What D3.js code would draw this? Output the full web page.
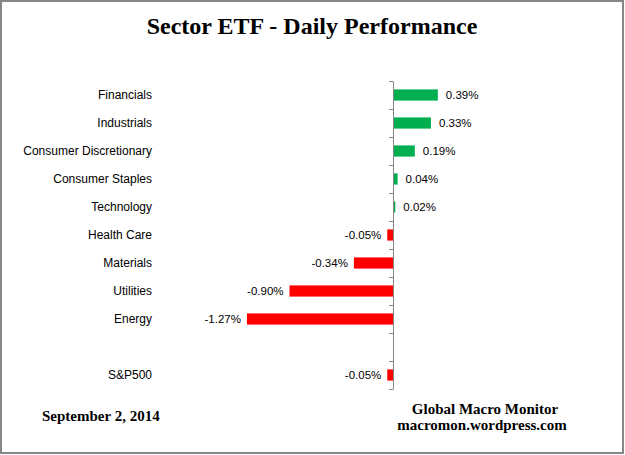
<!DOCTYPE html>
<html lang="en">
<head>
<meta charset="UTF-8">
<title>Sector ETF - Daily Performance</title>
<script src="https://d3js.org/d3.v7.min.js"></script>
<style>
    body { margin: 0; background: #fff; }
    svg { display: block; }
    .cat, .val { font-family: "Liberation Sans", Arial, sans-serif; font-size: 11.5px; fill: #000; }
    .cat { font-size: 12px; }
    .serif { font-family: "Liberation Serif", "Times New Roman", serif; font-weight: bold; fill: #000; }
    .axis path, .axis line { stroke: #868686; }
</style>
</head>
<body>
<svg id="chart"></svg>
<script>
    // chart data
    const sectors = ["Financials", "Industrials", "Consumer Discretionary", "Consumer Staples",
        "Technology", "Health Care", "Materials", "Utilities", "Energy", " ", "S&P500"];
    const changes = [0.39, 0.33, 0.19, 0.04, 0.02, -0.05, -0.34, -0.90, -1.27, null, -0.05];
    const valueLabels = ["0.39%", "0.33%", "0.19%", "0.04%", "0.02%", "-0.05%", "-0.34%", "-0.90%", "-1.27%", "", "-0.05%"];

    const width = 625, height = 455;

    const svg = d3.select("#chart")
        .attr("width", width)
        .attr("height", height);

    // outer frame
    svg.append("rect")
        .attr("x", 1).attr("y", 1)
        .attr("width", width - 3).attr("height", height - 3)
        .attr("fill", "#fff")
        .attr("stroke", "#868686")
        .attr("stroke-width", 2);

    svg.append("text")
        .attr("class", "serif")
        .attr("x", 312).attr("y", 34)
        .attr("text-anchor", "middle")
        .style("font-size", "24px")
        .text("Sector ETF - Daily Performance");

    const x = d3.scaleLinear()
        .domain([-1.5, 0.5])
        .range([393 - 115 * 1.5, 393 + 115 * 0.5]);

    const y = d3.scaleBand()
        .domain(sectors)
        .range([81, 389])
        .paddingInner(0.6)
        .paddingOuter(0.3);

    // boundaries between categories, for the tick marks
    const yEdge = d3.scaleLinear()
        .domain([0, sectors.length])
        .range([81, 389]);

    const rows = sectors.map((s, i) => ({ name: s, value: changes[i], label: valueLabels[i] }));
    const withValue = rows.filter(d => d.value !== null);

    svg.append("g")
        .selectAll("rect")
        .data(withValue)
        .enter().append("rect")
        .attr("x", d => x(Math.min(0, d.value)))
        .attr("y", d => y(d.name))
        .attr("width", d => Math.abs(x(d.value) - x(0)))
        .attr("height", y.bandwidth())
        .attr("fill", d => d.value >= 0 ? "#00B050" : "#FF0000");

    svg.append("g")
        .attr("class", "axis")
        .attr("transform", `translate(${x(0)},0)`)
        .call(d3.axisLeft(yEdge)
            .tickValues(d3.range(sectors.length + 1))
            .tickSize(4)
            .tickSizeOuter(0)
            .tickFormat(""));

    svg.append("g")
        .selectAll("text")
        .data(rows)
        .enter().append("text")
        .attr("class", "cat")
        .attr("x", 152)
        .attr("y", d => y(d.name) + y.bandwidth() / 2)
        .attr("dy", "0.35em")
        .attr("text-anchor", "end")
        .text(d => d.name);

    svg.append("g")
        .selectAll("text")
        .data(withValue)
        .enter().append("text")
        .attr("class", "val")
        .attr("x", d => d.value >= 0 ? x(d.value) + 8 : x(d.value) - 6)
        .attr("y", d => y(d.name) + y.bandwidth() / 2)
        .attr("dy", "0.35em")
        .attr("text-anchor", d => d.value >= 0 ? "start" : "end")
        .text(d => d.label);

    svg.append("text")
        .attr("class", "serif")
        .attr("x", 42).attr("y", 421)
        .style("font-size", "15px")
        .text("September 2, 2014");

    svg.append("text")
        .attr("class", "serif")
        .attr("x", 485).attr("y", 414)
        .attr("text-anchor", "middle")
        .style("font-size", "15px")
        .text("Global Macro Monitor");

    svg.append("text")
        .attr("class", "serif")
        .attr("x", 482).attr("y", 430)
        .attr("text-anchor", "middle")
        .style("font-size", "15px")
        .text("macromon.wordpress.com");
</script>
</body>
</html>
